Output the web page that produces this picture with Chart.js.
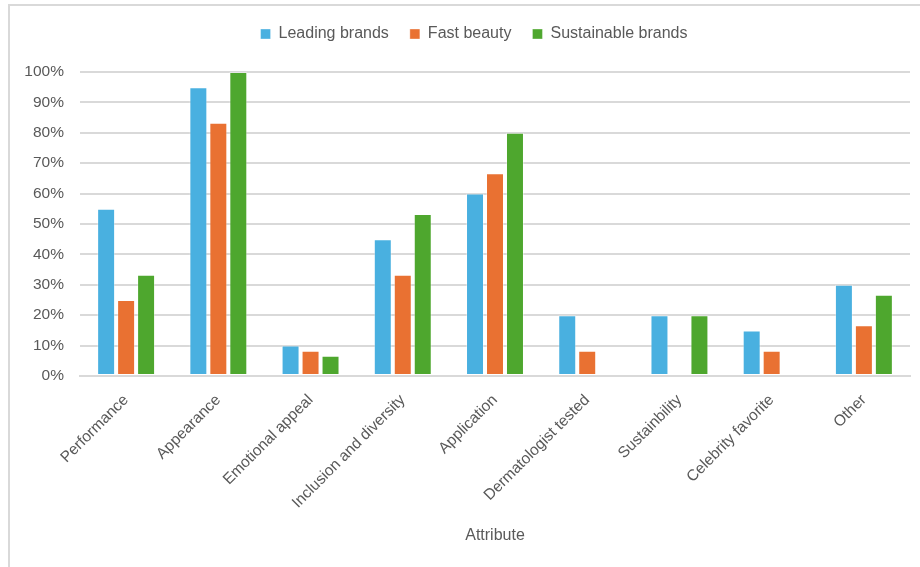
<!DOCTYPE html>
<html>
<head>
<meta charset="utf-8">
<script src="https://cdn.jsdelivr.net/npm/chart.js@4/dist/chart.umd.min.js"></script>
<style>
  html, body { margin: 0; padding: 0; background: #fff; }
  #frame {
    position: absolute; left: 8px; top: 4px; width: 930px; height: 580px;
    border-left: 2px solid #d9d9d9; border-top: 2px solid #d9d9d9;
  }
  #wrap { position: absolute; left: 0; top: 0; width: 920px; height: 567px; }
</style>
</head>
<body>
<div id="frame"></div>
<div id="wrap"><canvas id="c" width="920" height="567"></canvas></div>
<script>
// Share of products mentioning each attribute, by brand type (%)
const attributes = ['Performance', 'Appearance', 'Emotional appeal', 'Inclusion and diversity',
  'Application', 'Dermatologist tested', 'Sustainbility', 'Celebrity favorite', 'Other'];
const leadingBrands     = [55, 95, 10, 45, 60, 20, 20, 15, 30];
const fastBeauty        = [25, 83.3, 8.3, 33.3, 66.7, 8.3, 0, 8.3, 16.7];
const sustainableBrands = [33.3, 100, 6.7, 53.3, 80, 0, 20, 0, 26.7];
const yTicks = [0, 10, 20, 30, 40, 50, 60, 70, 80, 90, 100];

const regular = '"Liberation Sans", Arial, sans-serif';

// Extra room below the legend, and a small nudge of the legend itself
const legendGap = {
  id: 'legendGap',
  beforeLayout(chart) {
    const lg = chart.legend;
    if (lg && !lg._gapWrapped) {
      const fit = lg.fit;
      lg.fit = function () { fit.call(this); this.height += 24; };
      lg._gapWrapped = true;
    }
  },
  afterLayout(chart) {
    const lg = chart.legend;
    if (!lg) return;
    lg.left += 13; lg.right += 13;
    lg.top += 4; lg.bottom += 4;
  }
};

function series(label, data, color) {
  return {
    label, data,
    backgroundColor: color,
    borderColor: 'rgba(255,255,255,0.35)',
    borderWidth: 1,
    borderSkipped: false,
    categoryPercentage: 0.65,
    barPercentage: 0.9
  };
}

new Chart(document.getElementById('c'), {
  type: 'bar',
  data: {
    labels: attributes,
    datasets: [
      series('Leading brands', leadingBrands, '#49B0E0'),
      series('Fast beauty', fastBeauty, '#E97132'),
      series('Sustainable brands', sustainableBrands, '#4EA72E')
    ]
  },
  plugins: [legendGap],
  options: {
    responsive: false,
    animation: false,
    layout: { padding: { left: 12, right: 10, top: 1, bottom: 22 } },
    plugins: {
      tooltip: { enabled: false },
      legend: {
        position: 'top',
        labels: {
          boxWidth: 10, boxHeight: 10, padding: 21,
          color: '#595959',
          font: { family: regular, size: 16 }
        }
      }
    },
    scales: {
      x: {
        afterFit: s => { s.height = 169; },
        grid: { display: false, drawTicks: false },
        border: { color: '#d9d9d9', width: 2 },
        ticks: {
          color: '#595959', minRotation: 45, maxRotation: 45, padding: 15,
          autoSkip: false,
          font: { family: regular, size: 15.5 }
        },
        title: {
          display: true, text: 'Attribute', color: '#595959',
          font: { family: regular, size: 16 }, padding: { top: 4, bottom: 0 }
        }
      },
      y: {
        min: 0, max: 100,
        afterFit: s => { s.width = 68; },
        afterBuildTicks: s => { s.ticks = yTicks.map(v => ({ value: v })); },
        grid: { color: '#d9d9d9', lineWidth: 2, drawTicks: false },
        border: { display: false },
        ticks: {
          color: '#595959', padding: 16,
          font: { family: regular, size: 15.5 },
          callback: v => v + '%'
        }
      }
    }
  }
});
</script>
</body>
</html>
